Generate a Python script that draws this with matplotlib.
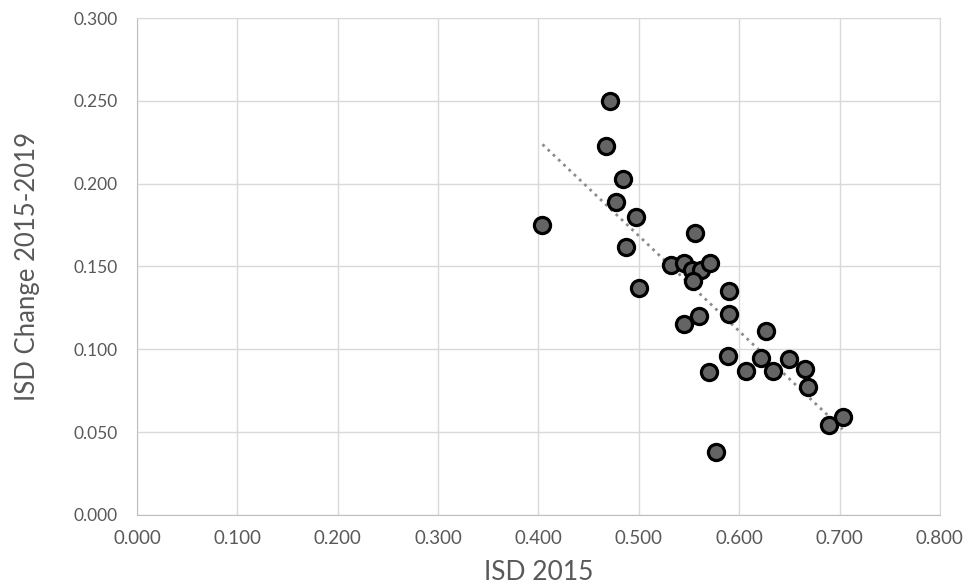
import numpy as np
import matplotlib
matplotlib.use('Agg')
import matplotlib.pyplot as plt

# ISD 2015 vs change 2015-2019
isd_2015 = [0.404, 0.471, 0.467, 0.484, 0.477, 0.497, 0.487, 0.556, 0.532, 0.545,
            0.553, 0.562, 0.571, 0.554, 0.500, 0.590, 0.590, 0.560, 0.545, 0.627,
            0.589, 0.570, 0.607, 0.622, 0.634, 0.650, 0.666, 0.669, 0.689, 0.703,
            0.577]
isd_change = [0.175, 0.250, 0.223, 0.203, 0.189, 0.180, 0.162, 0.170, 0.151, 0.152,
              0.148, 0.148, 0.152, 0.141, 0.137, 0.135, 0.121, 0.120, 0.115, 0.111,
              0.096, 0.086, 0.087, 0.095, 0.087, 0.094, 0.088, 0.077, 0.054, 0.059,
              0.038]

x = np.array(isd_2015)
y = np.array(isd_change)

plt.rcParams['font.family'] = ['Lato', 'DejaVu Sans']
fig = plt.figure(figsize=(9.69, 5.85), dpi=100)
ax = fig.add_axes([0.1414, 0.120, 0.8286, 0.849])

ax.set_axisbelow(True)
ax.grid(True, color='#d9d9d9', linewidth=1)
for s in ax.spines.values():
    s.set_color('#d9d9d9')
ax.spines['left'].set_color('#bfbfbf')
ax.spines['bottom'].set_color('#bfbfbf')

ax.scatter(x, y, s=135, facecolor='#646464', edgecolor='black', linewidths=2.3, zorder=3)

# linear trendline
k, b = np.polyfit(x, y, 1)
xs = np.array([x.min(), x.max()])
ax.plot(xs, k * xs + b, color='#8c8c8c', linestyle=(0, (1, 1.6)), linewidth=2, zorder=2)

ax.set_xlim(0, 0.8)
ax.set_ylim(0, 0.3)
ax.set_xticks(np.arange(0, 0.81, 0.1))
ax.set_yticks(np.arange(0, 0.301, 0.05))
ax.set_xticklabels(['%.3f' % v for v in np.arange(0, 0.81, 0.1)])
ax.set_yticklabels(['%.3f' % v for v in np.arange(0, 0.301, 0.05)])
ax.tick_params(axis='y', length=0, labelsize=12.5, colors='#595959', pad=14)
ax.tick_params(axis='x', length=0, labelsize=13.5, colors='#595959', pad=11)

ax.set_xlabel('ISD 2015', fontsize=19, color='#595959', labelpad=9)
ax.set_ylabel('ISD Change 2015-2019', fontsize=18.5, color='#595959', labelpad=24)

fig.savefig('out.png', dpi=100)
